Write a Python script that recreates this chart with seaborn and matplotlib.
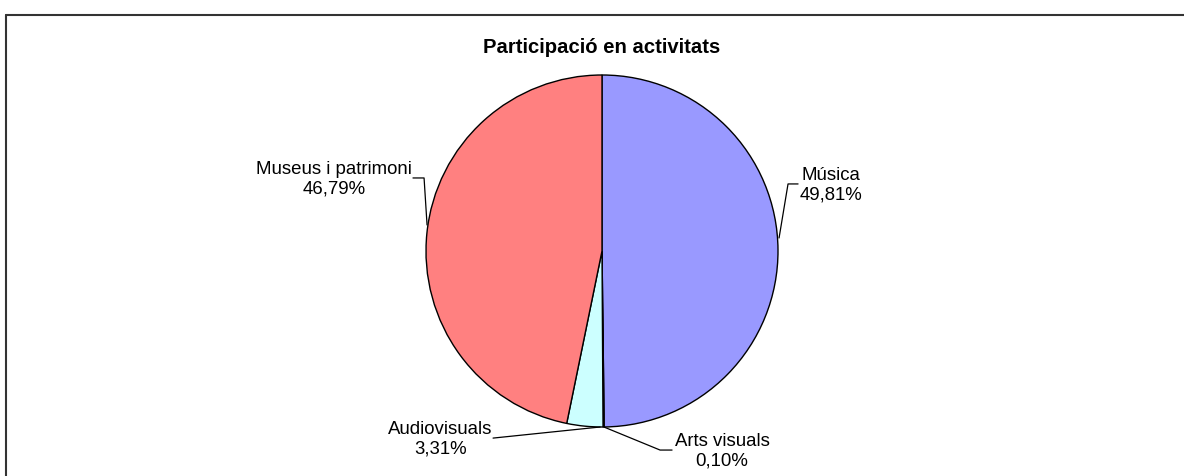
import numpy as np
import matplotlib
matplotlib.use("Agg")
import matplotlib.pyplot as plt
from matplotlib.lines import Line2D
import seaborn as sns

# ================= dades =================
categories = ["Música", "Arts visuals", "Audiovisuals", "Museus i patrimoni"]
percentages = [49.81, 0.10, 3.31, 46.79]
colors = ["#9999FF", "#FFFFCC", "#CCFFFF", "#FF8080"]
title = "Participació en activitats"

# posicions de les etiquetes (coordenades del pastís, radi = 1)
label_pos = [(1.30, 0.375), (0.682, -1.136), (-0.92, -1.068), (-1.523, 0.409)]
leader_lines = [
    [(1.006, 0.074), (1.057, 0.381), (1.114, 0.381)],
    [(0.011, -1.0), (0.330, -1.131), (0.398, -1.131)],
    [(-0.011, -1.0), (-0.619, -1.063)],
    [(-0.994, 0.148), (-1.011, 0.415), (-1.074, 0.415)],
]

sns.set_theme(style="white")
plt.rcParams["font.family"] = ["Liberation Sans", "DejaVu Sans"]

W, H = 1184, 476
fig = plt.figure(figsize=(W / 100, H / 100), dpi=100)
fig.patch.set_facecolor("white")

cx, cy, r = 602, 251, 176
ax = fig.add_axes([(cx - r) / W, (H - cy - r) / H, 2 * r / W, 2 * r / H])

ax.pie(percentages, colors=colors, startangle=90, counterclock=False, radius=1,
       wedgeprops=dict(edgecolor="black", linewidth=1.0))
ax.set_xlim(-1, 1)
ax.set_ylim(-1, 1)
ax.set_axis_off()

def fmt(v):
    return f"{v:.2f}%".replace(".", ",")

for name, val, (tx, ty), pts in zip(categories, percentages, label_pos, leader_lines):
    ax.text(tx, ty, f"{name}\n{fmt(val)}", ha="center", va="center",
            fontsize=13.4, color="black", linespacing=1.22, clip_on=False)
    xs, ys = zip(*pts)
    ax.plot(xs, ys, color="black", linewidth=0.9, clip_on=False)

fig.text(cx / W, 1 - 47.5 / H, title, ha="center", va="center",
         fontsize=14.6, fontweight="bold", color="black")

# marc del gràfic (només vores superior i esquerra visibles)
fig.add_artist(Line2D([6 / W, 6 / W], [0, 1 - 15 / H], transform=fig.transFigure,
                      color="#333333", linewidth=1.5))
fig.add_artist(Line2D([6 / W, 1], [1 - 15 / H, 1 - 15 / H], transform=fig.transFigure,
                      color="#333333", linewidth=1.5))

fig.savefig("out.png", dpi=100)
